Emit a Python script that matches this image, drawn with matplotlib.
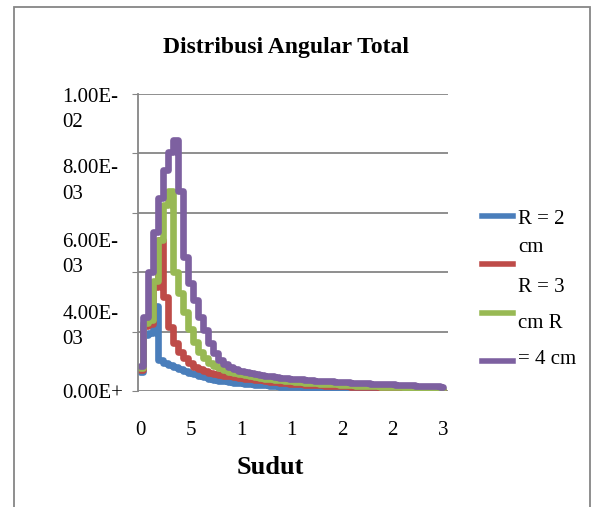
import matplotlib.pyplot as plt
from matplotlib.lines import Line2D
from matplotlib.patches import Rectangle
from matplotlib.transforms import ScaledTranslation

plt.rcParams['font.family'] = ['Liberation Serif', 'DejaVu Serif']

# sudut (derajat), bin 5 derajat
sudut = list(range(0, 301, 5))

# nilai distribusi, dalam satuan 1e-3
r2 = [0.65, 1.9, 1.95, 2.85, 1.05, 0.95, 0.87, 0.8, 0.73, 0.67,
      0.61, 0.56, 0.5, 0.46, 0.42, 0.38, 0.35, 0.32, 0.3, 0.28,
      0.26, 0.24, 0.22, 0.21, 0.2, 0.19, 0.17, 0.16, 0.15, 0.14,
      0.135, 0.13, 0.12, 0.115, 0.11, 0.105, 0.1, 0.095, 0.09, 0.088,
      0.085, 0.082, 0.08, 0.078, 0.075, 0.07, 0.068, 0.065, 0.062, 0.06,
      0.057, 0.055, 0.052, 0.05, 0.047, 0.045, 0.042, 0.04, 0.037, 0.035,
      0.032]
r3 = [0.72, 2.2, 2.25, 3.5, 5.1, 3.15, 2.15, 1.6, 1.3, 1.1,
      0.95, 0.82, 0.74, 0.67, 0.61, 0.57, 0.54, 0.52, 0.5, 0.47,
      0.44, 0.42, 0.4, 0.38, 0.36, 0.34, 0.31, 0.29, 0.27, 0.255,
      0.24, 0.23, 0.22, 0.21, 0.2, 0.195, 0.19, 0.185, 0.18, 0.17,
      0.165, 0.16, 0.15, 0.145, 0.14, 0.13, 0.125, 0.12, 0.11, 0.105,
      0.1, 0.095, 0.09, 0.085, 0.08, 0.075, 0.07, 0.065, 0.06, 0.055,
      0.05]
r_green = [0.78, 2.3, 2.4, 3.7, 5.1, 6.25, 6.75, 4.0, 3.3, 2.65,
           2.1, 1.65, 1.3, 1.1, 0.95, 0.85, 0.76, 0.7, 0.65, 0.61,
           0.57, 0.53, 0.5, 0.47, 0.45, 0.42, 0.4, 0.38, 0.36, 0.34,
           0.32, 0.31, 0.29, 0.28, 0.27, 0.26, 0.25, 0.24, 0.23, 0.22,
           0.21, 0.2, 0.19, 0.18, 0.175, 0.17, 0.16, 0.155, 0.15, 0.14,
           0.135, 0.13, 0.12, 0.115, 0.11, 0.1, 0.095, 0.09, 0.085, 0.08,
           0.075]
r4 = [0.85, 2.5, 4.0, 5.35, 6.5, 7.45, 8.05, 8.45, 6.75, 4.5,
      3.65, 3.05, 2.5, 2.05, 1.62, 1.28, 1.05, 0.9, 0.8, 0.74,
      0.69, 0.64, 0.6, 0.57, 0.55, 0.52, 0.5, 0.47, 0.45, 0.43,
      0.42, 0.4, 0.39, 0.37, 0.36, 0.35, 0.34, 0.33, 0.32, 0.31,
      0.3, 0.29, 0.285, 0.28, 0.27, 0.26, 0.25, 0.245, 0.24, 0.23,
      0.22, 0.21, 0.2, 0.195, 0.19, 0.18, 0.175, 0.17, 0.16, 0.155,
      0.15]

series = [r2, r3, r_green, r4]
colors = ['#4A7EBB', '#BE4B48', '#98B954', '#7D60A0']

yticks = [0, 0.002, 0.004, 0.006, 0.008, 0.01]
ylabels = ['0.00E+', '', '4.00E-\n03', '6.00E-\n03', '8.00E-\n03', '1.00E-\n02']
xticks = [0, 50, 100, 150, 200, 250, 300]
xlabels = ['0', '5', '1', '1', '2', '2', '3']

grey = '#868686'

fig = plt.figure(figsize=(5.92, 5.07), dpi=100)
ax = fig.add_axes([138/592, 1 - 391/507, 310/592, 297/507])

for vals, c in zip(series, colors):
    ax.plot(sudut, [v * 1e-3 for v in vals], drawstyle='steps-mid', color=c,
            lw=4.8, solid_joinstyle='round', solid_capstyle='round')

ax.set_xlim(-2, 305)
ax.set_ylim(0, 0.01)
ax.set_yticks(yticks)
ax.set_yticklabels(ylabels, fontsize=15, ha='left', va='center', linespacing=1.45)
ax.set_xticks(xticks)
ax.set_xticklabels(xlabels, fontsize=15)
ax.tick_params(axis='x', length=0, pad=21.5)
ax.tick_params(axis='y', length=4, color=grey, pad=50.5)

# excel menaruh label y agak ke bawah
shift_px = [2, 0, 55, 42, 28, 16]
for lab, s in zip(ax.get_yticklabels(), shift_px):
    lab.set_transform(lab.get_transform() + ScaledTranslation(0, -s / 100, fig.dpi_scale_trans))

ax.grid(axis='y', color=grey, lw=1.3)
ax.set_axisbelow(True)
for side in ['top', 'right', 'bottom']:
    ax.spines[side].set_visible(False)
ax.spines['left'].set_color(grey)
ax.spines['left'].set_linewidth(1.3)

ax.set_xlabel('Sudut', fontsize=19, fontweight='bold')
ax.xaxis.set_label_coords((270 - 138) / 310, (391 - 467) / 297)
ax.xaxis.label.set_va('center')

fig.text(286 / 592, 1 - 48 / 507, 'Distribusi Angular Total', fontsize=17,
         fontweight='bold', ha='center', va='center')

# legenda manual (teks terbungkus seperti di excel)
leg_y = [216, 264, 313, 361]
for c, y in zip(colors, leg_y):
    fig.add_artist(Line2D([482 / 592, 513 / 592], [1 - y / 507, 1 - y / 507],
                          color=c, lw=4, transform=fig.transFigure))
leg_text = ['R = 2', 'cm', 'R = 3', 'cm R', '= 4 cm']
leg_text_y = [220, 247, 287, 324, 360]
for t, y in zip(leg_text, leg_text_y):
    fig.text(518 / 592, 1 - y / 507, t, fontsize=15, ha='left', va='center')

# bingkai chart
fig.add_artist(Rectangle((14 / 592, -0.1), (590 - 14) / 592, 1.1 - 7 / 507,
                         transform=fig.transFigure, fill=False,
                         edgecolor=grey, lw=1.3))

fig.savefig('out.png', dpi=100)
